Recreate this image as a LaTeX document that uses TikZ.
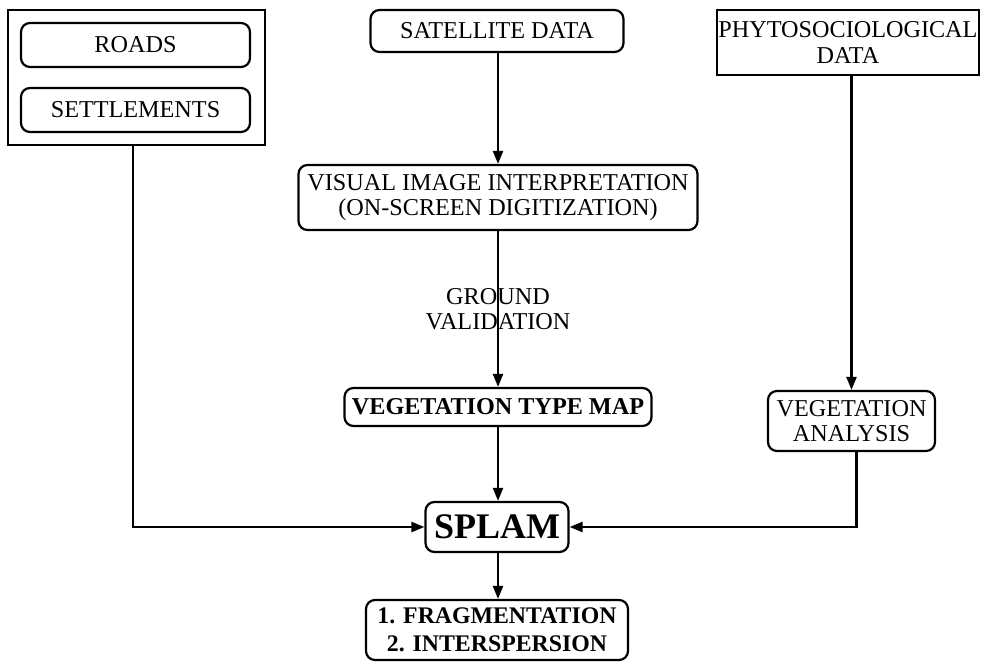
\documentclass[tikz,border=0pt]{standalone}
\usepackage{fontspec}
\setmainfont{Liberation Serif}
\usetikzlibrary{arrows.meta,positioning}
\begin{document}
\begin{tikzpicture}[x=1pt,y=-1pt,
  base/.style={draw=black,line width=2.2pt,align=center,inner sep=0pt,
    font=\fontsize{24.2}{25.5}\selectfont},
  rbox/.style={base,rounded corners=9pt},
  sbox/.style={base},
  arr/.style={line width=2.2pt,-{Triangle[length=13pt,width=10pt]}}]
\useasboundingbox (0,0) rectangle (986,662);
\node[sbox,minimum width=257,minimum height=135] (outer) at (136.5,77.5) {};
\node[rbox,minimum width=229,minimum height=44] (roads) at (135.5,45) {ROADS};
\node[rbox,minimum width=229,minimum height=44] (settle) at (135.5,110) {SETTLEMENTS};
\node[rbox,minimum width=253,minimum height=42] (sat) at (497,31) {SATELLITE DATA};
\node[sbox,minimum width=262,minimum height=65] (phyto) at (848,42.5) {PHYTOSOCIOLOGICAL\\DATA};
\node[rbox,minimum width=399,minimum height=65] (vis) at (498,197.5) {VISUAL IMAGE INTERPRETATION\\(ON-SCREEN DIGITIZATION)};
\node[align=center,inner sep=0pt,font=\fontsize{24.2}{25}\selectfont] (gv) at (498,309.5) {GROUND\\VALIDATION};
\node[rbox,minimum width=307,minimum height=38,font=\fontsize{24.2}{25.5}\selectfont\bfseries] (vtm) at (498,407) {VEGETATION TYPE MAP};
\node[rbox,minimum width=167,minimum height=60] (va) at (851.5,421) {VEGETATION\\ANALYSIS};
\node[rbox,minimum width=143,minimum height=50,font=\fontsize{36}{38}\selectfont\bfseries] (splam) at (497,527) {SPLAM};
\node[rbox,minimum width=262,minimum height=60,font=\fontsize{23.8}{28}\selectfont\bfseries] (res) at (497,630) {1. FRAGMENTATION\\2. INTERSPERSION};
\draw[arr] (sat.south -| vis.north) -- (vis.north);
\draw[arr] (vis.south) -- (vtm.north);
\draw[arr] (vtm.south) -- (vtm.south |- splam.north);
\draw[arr] (splam.south -| vtm.south) -- (res.north -| vtm.south);
\draw[arr] ([xshift=-3.5pt]outer.south) |- (splam.west);
\draw[arr] (va.north |- phyto.south) -- (va.north);
\draw[arr] ([xshift=5pt]va.south) |- (splam.east);
\end{tikzpicture}
\end{document}
